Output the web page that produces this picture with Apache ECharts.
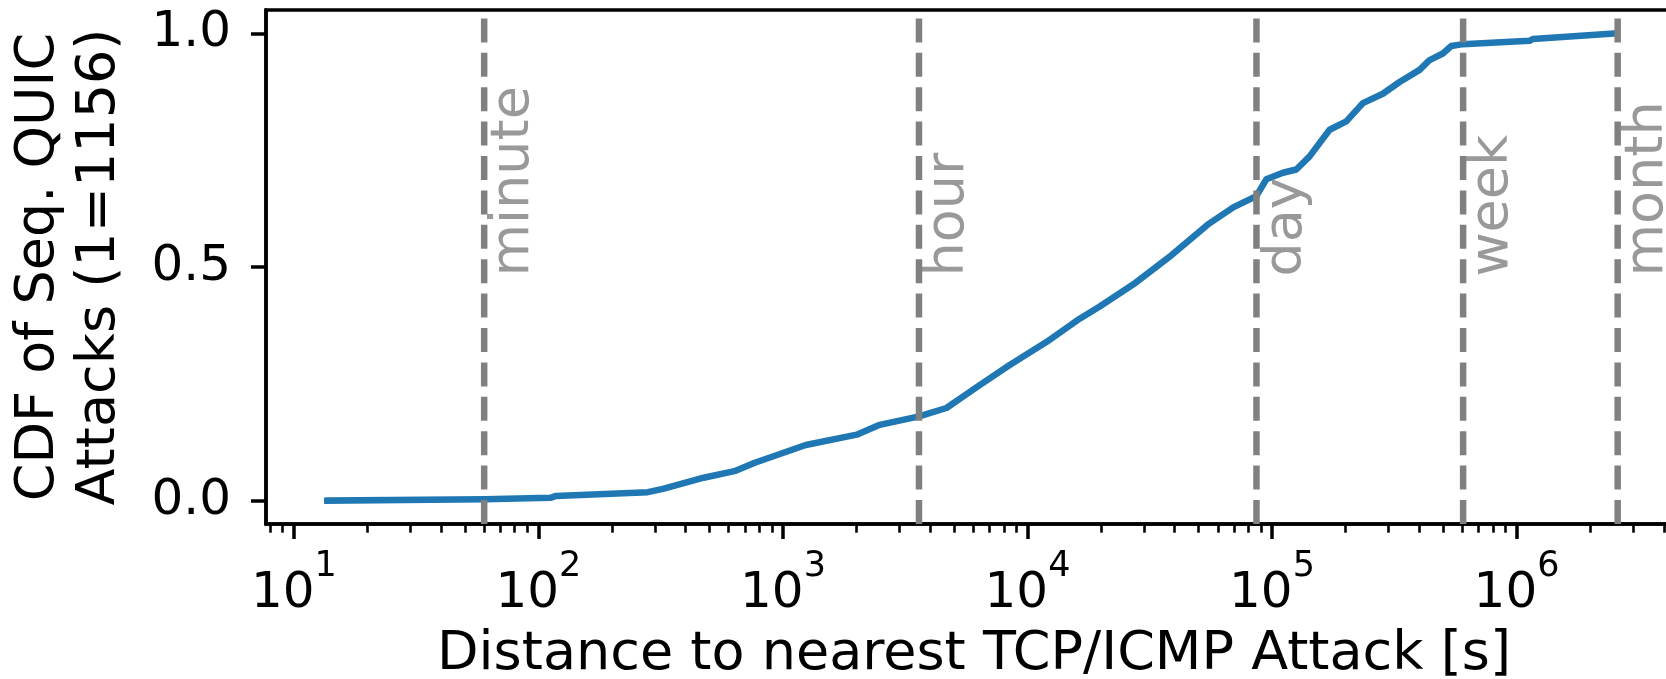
<!DOCTYPE html>
<html>
<head>
<meta charset="utf-8">
<script src="https://cdn.jsdelivr.net/npm/echarts@6/dist/echarts.min.js"></script>
<style>
  html, body { margin: 0; padding: 0; background: #fff; overflow: hidden; }
  #chart { width: 1666px; height: 679px; }
</style>
</head>
<body>
<div id="chart"></div>
<script>
// Distance [s] from a sequential QUIC attack to the nearest TCP/ICMP attack
const distanceSeconds = [
  13.7, 60.4, 112, 118, 280, 323, 474, 633, 767, 1240,
  2003, 2488, 3605, 4661, 6376, 8458, 11950, 16350, 19740, 27700,
  38870, 54540, 69400, 86270, 94780, 110800, 125700, 142500, 172000, 201300,
  235300, 284100, 332400, 401400, 441000, 499700, 541000, 603300, 1130000, 1166000,
  2516000
];
// Cumulative share of the 1156 attacks reached at each distance
const cdfValues = [
  0.001, 0.004, 0.007, 0.011, 0.019, 0.026, 0.050, 0.064, 0.082, 0.120,
  0.142, 0.163, 0.181, 0.199, 0.248, 0.291, 0.340, 0.390, 0.416, 0.467,
  0.526, 0.591, 0.628, 0.652, 0.688, 0.702, 0.709, 0.737, 0.794, 0.812,
  0.851, 0.871, 0.896, 0.922, 0.943, 0.957, 0.973, 0.977, 0.984, 0.988,
  1.000
];
// Reference durations marked with dashed vertical lines
const markerNames = ['minute', 'hour', 'day', 'week', 'month'];
const markerSeconds = [60, 3600, 86400, 604800, 2592000];
// Tick labels
const xTickExponents = [1, 2, 3, 4, 5, 6];
const yTickValues = [0, 0.5, 1.0];

const FONT = 'DejaVu Sans';
const X_MIN = 7.69, X_MAX = 4.75e6;
const Y_MIN = -0.049, Y_MAX = 1.05;
const LABEL_Y = 0.48;

const decadeValues = xTickExponents.map(e => Math.pow(10, e));
const minorValues = [];
for (let e = 0; e <= 6; e++) {
  for (let m = 2; m <= 9; m++) {
    const v = m * Math.pow(10, e);
    if (v > X_MIN && v < X_MAX) minorValues.push(v);
  }
}

const chart = echarts.init(document.getElementById('chart'), null, { renderer: 'canvas' });

const markerSeries = markerSeconds.map((sec, i) => ({
  type: 'line',
  name: markerNames[i],
  xAxisIndex: 0,
  data: [[sec, Y_MIN], [sec, Y_MAX]],
  showSymbol: false,
  symbol: 'none',
  silent: true,
  z: 4,
  lineStyle: { color: '#808080', width: 6.5, type: [24, 10.4], cap: 'butt' }
}));

const option = {
  animation: false,
  backgroundColor: '#ffffff',
  grid: {
    left: 266, top: 10, width: 1416, height: 514,
    outerBoundsMode: 'none',
    containLabel: false,
    show: true, borderColor: '#000', borderWidth: 3.5, backgroundColor: 'transparent'
  },
  xAxis: [
    {
      type: 'log', min: X_MIN, max: X_MAX, position: 'bottom',
      axisLine: { show: true, onZero: false, lineStyle: { color: '#000', width: 3.5 } },
      axisTick: { show: true, length: 15, customValues: decadeValues,
                  lineStyle: { color: '#000', width: 3.5 } },
      minorTick: { show: false },
      splitLine: { show: false },
      axisLabel: {
        show: true, customValues: decadeValues, margin: 25,
        formatter: v => '{b|10}{e|' + Math.round(Math.log10(v)) + '}',
        rich: {
          b: { fontFamily: FONT, fontSize: 50, color: '#000', lineHeight: 70, verticalAlign: 'bottom' },
          e: { fontFamily: FONT, fontSize: 35, color: '#000', lineHeight: 35, verticalAlign: 'top' }
        }
      },
      name: 'Distance to nearest TCP/ICMP Attack [s]',
      nameLocation: 'middle', nameGap: 104,
      nameTextStyle: { fontFamily: FONT, fontSize: 54, lineHeight: 54, color: '#000' }
    },
    {
      type: 'log', min: X_MIN, max: X_MAX, position: 'bottom', gridIndex: 0,
      axisLine: { show: false, onZero: false },
      axisTick: { show: true, length: 8.7, customValues: minorValues,
                  lineStyle: { color: '#000', width: 2.6 } },
      axisLabel: { show: false },
      splitLine: { show: false }
    }
  ],
  yAxis: {
    type: 'value', min: Y_MIN, max: Y_MAX,
    axisLine: { show: true, lineStyle: { color: '#000', width: 3.5 } },
    axisTick: { show: true, length: 15, customValues: yTickValues,
                lineStyle: { color: '#000', width: 3.5 } },
    splitLine: { show: false },
    axisLabel: {
      customValues: yTickValues, margin: 35,
      formatter: v => v.toFixed(1),
      fontFamily: FONT, fontSize: 50, color: '#000'
    },
    name: 'CDF of Seq. QUIC\nAttacks (1=1156)',
    nameLocation: 'middle', nameRotate: 90, nameGap: 136,
    nameTextStyle: { fontFamily: FONT, fontSize: 54, lineHeight: 61, color: '#000', align: 'center' }
  },
  series: [
    {
      type: 'line',
      name: 'CDF',
      xAxisIndex: 0,
      data: distanceSeconds.map((d, i) => [d, cdfValues[i]]),
      showSymbol: false,
      symbol: 'none',
      z: 3,
      lineStyle: { color: '#1f77b4', width: 6.5, cap: 'square', join: 'round' }
    },
    ...markerSeries,
    {
      type: 'scatter',
      name: 'marker labels',
      xAxisIndex: 0,
      symbolSize: 0,
      silent: true,
      z: 5,
      data: markerSeconds.map((sec, i) => ({ value: [sec, LABEL_Y], name: markerNames[i] })),
      label: {
        show: true,
        formatter: '{b}',
        position: [3, 0],
        rotate: 90,
        align: 'left',
        verticalAlign: 'top',
        fontFamily: FONT,
        fontSize: 54,
        color: '#808080'
      }
    }
  ]
};

chart.setOption(option);
</script>
</body>
</html>
